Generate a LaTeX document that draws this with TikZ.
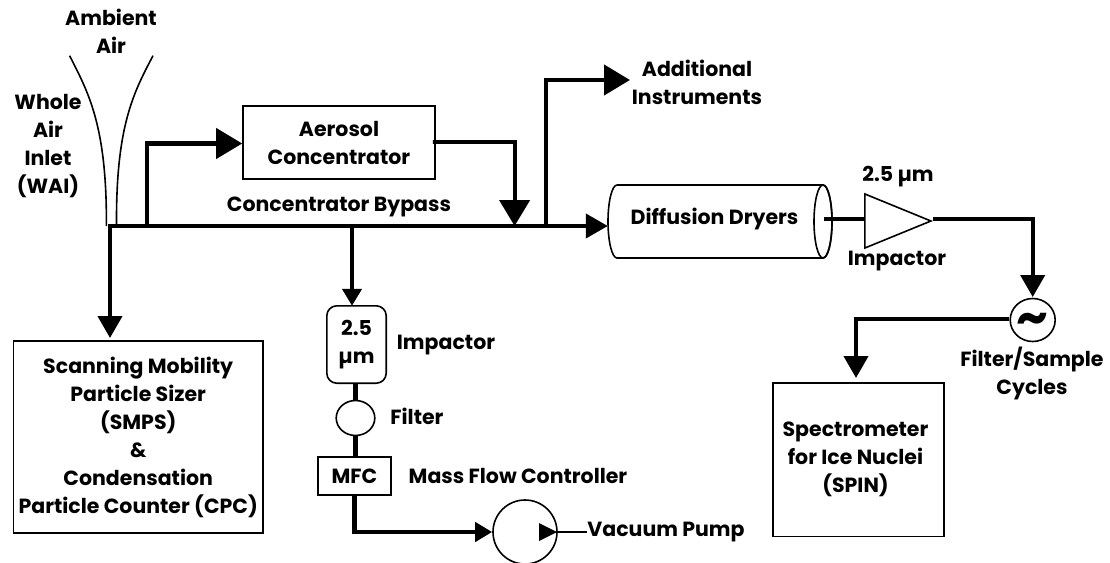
\documentclass[tikz,border=0pt]{standalone}
\usepackage{fontspec}
\setmainfont{Poppins}[BoldFont=* Bold]
\usetikzlibrary{arrows.meta,shapes.geometric}
\tikzset{
  lab/.style={font=\fontsize{20.5}{28}\selectfont\bfseries, align=center, inner sep=0pt, text=black},
  boxed/.style={lab, draw, line width=1.6pt, rectangle, minimum width=#1},
  ell/.style={draw, line width=1.6pt, ellipse, inner sep=0pt},
  pipe/.style={line width=4.2pt, line join=miter},
  pipethin/.style={line width=1.6pt},
  inlet/.style={line width=1.6pt},
  bighead/.style={-{Triangle[length=26pt,width=30pt]}},
  medhead/.style={-{Triangle[length=22pt,width=24pt]}},
  smallhead/.style={-{Triangle[length=17pt,width=19pt]}}
}
\begin{document}
\begin{tikzpicture}[x=1pt,y=-1pt]
\path[use as bounding box] (0,0) rectangle (1110,562);
% inlet
\coordinate (il0) at (69.6,55.7);
\coordinate (il1) at (106.4,226);
\coordinate (ir0) at (153,55.7);
\coordinate (ir1) at (116.5,224);
\draw[inlet] (il0) .. controls (88,92) and (107,125) .. (il1);
\draw[inlet] (ir0) .. controls (134,92) and (116,125) .. (ir1);
% text labels
\node[lab] (ambient) at (111,31) {Ambient\\Air};
\node[lab] (wai) at (48,146) {Whole\\Air\\Inlet\\(WAI)};
\node[lab] (bypass) at (339,207) {Concentrator Bypass};
\node[lab] (addl) at (697,82) {Additional\\Instruments};
\node[lab] (d25) at (898,177) {2.5 µm};
\node[lab] (imp1) at (897,261) {Impactor};
\node[lab] (cycles) at (1032,373) {Filter/Sample\\Cycles};
\node[lab] (imp2) at (446,345) {Impactor};
\node[lab] (filterlab) at (417,416) {Filter};
\node[lab] (mfclab) at (518,476) {Mass Flow Controller};
\node[lab] (vaclab) at (666,532) {Vacuum Pump};
% boxes
\node[boxed=192pt, minimum height=73pt] (conc) at (339,142.5) {Aerosol\\Concentrator};
\node[boxed=249.5pt, minimum height=192pt] (smps) at (138.2,437) {Scanning Mobility\\Particle Sizer\\(SMPS)\\\&\\Condensation\\Particle Counter (CPC)};
\node[boxed=171pt, minimum height=153.5pt] (spin) at (858.5,459.7) {};
\node[lab] (spinlab) at (855.5,459.5) {Spectrometer\\for Ice Nuclei\\(SPIN)};
\node[boxed=73.5pt, minimum height=38pt] (mfc) at (354.5,476) {MFC};
\node[lab, minimum width=59pt, minimum height=77pt] (impbox) at (356.5,344.5) {2.5\\µm};
\draw[line width=1.6pt, rounded corners=10pt] (impbox.south west) -- (impbox.north west) -- (impbox.north east) -- (impbox.south east) -- cycle;
\node[ell, minimum width=38.6pt, minimum height=35pt] (filter) at (355.5,418) {};
\node[ell, minimum width=64pt, minimum height=64pt] (pump) at (525,532) {};
\node[ell, minimum width=41.5pt, minimum height=43pt, font=\fontsize{50}{50}\selectfont\bfseries] (cyc) at (1032.7,320) {\raisebox{-14pt}[0pt][0pt]{\~{}}};
\node[lab, minimum width=224pt, minimum height=73pt] (dryer) at (720,221.5) {};
\draw[line width=1.6pt] (617,185) -- (823,185) arc[start angle=90, end angle=-90, x radius=9, y radius=-36.5] -- (617,258)
  arc[start angle=-90, end angle=-270, x radius=9, y radius=-36.5];
\draw[line width=1.6pt] (823,221.5) ellipse[x radius=9, y radius=36.5];
\node[lab] (dryertext) at (714.5,219) {Diffusion Dryers};
\node[draw, line width=1.6pt, isosceles triangle, isosceles triangle stretches, minimum width=54pt, minimum height=66pt, inner sep=0pt, anchor=apex] (tri) at (933,221) {};
% junctions
\coordinate (jstart) at (108,226);
\coordinate (jdown) at (110,226);
\coordinate (smpstip) at (110,338);
\coordinate (jconc) at (147,226);
\coordinate (jcenter) at (352,226);
\coordinate (jmerge) at (514.6,226);
\coordinate (jadd) at (546,226);
\coordinate (addtip) at (630,80);
\coordinate (dryerout) at (824,219);
\coordinate (spintip) at (856,378);
\coordinate (cyctip) at (1032.7,297);
% connectors
\draw[pipe, medhead] (jstart) -- (dryer.west |- jstart);
\draw[pipe, medhead] (jdown) -- (smpstip);
\draw[pipe, bighead] (jconc) |- (conc.west |- 0,143.5);
\draw[pipe, bighead] (conc.east |- 0,142) -- ++(-3,0) -- (jmerge |- 0,142) -- (jmerge);
\draw[pipe, bighead] (jadd) |- (addtip);
\draw[pipe, smallhead] (jcenter) -- (impbox.north -| jcenter);
\draw[pipe] (impbox.south -| filter.north) -- (filter.north);
\draw[pipe] (filter.south) -- (mfc.north -| filter.south);
\draw[pipe, smallhead] (mfc.south) |- (pump.west);
\draw[pipe] (dryerout) -- (tri.west |- dryerout);
\draw[pipe, medhead] (tri.apex |- 0,219) -| (cyctip);
\draw[pipe, medhead] (cyc.west |- 0,319) -| (spintip);
\draw[pipethin] (pump.east) -- (vaclab.west);
\fill (539,523) -- (557,532) -- (539,541) -- cycle;
\end{tikzpicture}
\end{document}
